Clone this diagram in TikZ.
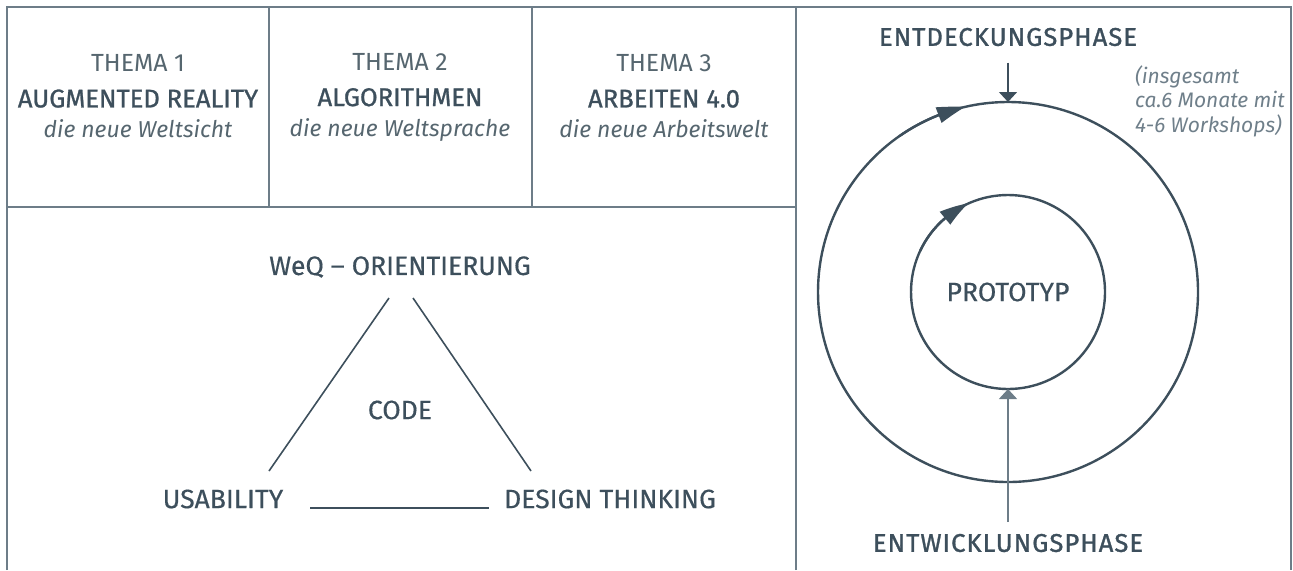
\documentclass[tikz,border=0pt]{standalone}
\usepackage{fontspec}
\setmainfont{Fira Sans}
\newfontfamily\medfont{Fira Sans}[FakeBold=0.4]
\newfontfamily\headfont{Fira Sans}[FakeBold=1.0]
\newfontfamily\capsfont{Fira Sans}[FakeBold=1.2, LetterSpace=4]
\usepackage{xcolor}
\usetikzlibrary{arrows.meta,bending,positioning}
\definecolor{slate}{HTML}{3D4F5C}
\definecolor{themegray}{HTML}{56666F}
\definecolor{framegray}{HTML}{6D7D88}
\definecolor{notegray}{HTML}{6F7F8A}
\newcommand{\topic}[3]{{\color{themegray}\fontsize{12.4}{15}\selectfont #1}\\[3pt]
  {\headfont\fontsize{12.8}{15}\selectfont #2}\\
  {\color{themegray}\itshape\fontsize{11.5}{15}\selectfont #3}}

\begin{document}
\begin{tikzpicture}[
  x=0.5pt, y=0.5pt,
  rule/.style={draw=framegray, line width=1pt},
  thema/.style={align=center, text=slate, font=\fontsize{12}{15}\selectfont},
  term/.style={text=slate, font=\medfont\fontsize{13.3}{15}\selectfont},
  phase/.style={text=slate, inner sep=1pt, font=\capsfont\fontsize{12.8}{15}\selectfont},
  note/.style={text=notegray, align=left,
    font=\itshape\fontsize{10.5}{12.25}\selectfont},
  ring/.style={circle, draw=slate, line width=1.2pt, inner sep=0pt, outer sep=0pt},
  leg/.style={draw=slate, line width=0.8pt},
  cyc/.style={draw=slate, line width=1.2pt, -{Triangle[length=14pt,width=8pt,bend]}},
  pin/.style={draw=slate, line width=0.8pt, -{Triangle[length=5pt,width=9pt]}}
]
  \useasboundingbox (0,0) rectangle (1293,570);

  % frame
  \draw[rule] (6.5,0) -- (6.5,563) -- (1291,563) -- (1291,0);
  \draw[rule] (6.5,363) -- (796,363);
  \draw[rule] (269,363) -- (269,563);
  \draw[rule] (532,363) -- (532,563);
  \draw[rule] (796,0) -- (796,563);

  % themes
  \node[thema] (T1) at (138,474) {\topic{THEMA 1}{AUGMENTED REALITY}{die neue Weltsicht}};
  \node[thema] (T2) at (400,473) {\topic{THEMA 2}{ALGORITHMEN}{die neue Weltsprache}};
  \node[thema] (T3) at (664,474) {\topic{THEMA 3}{ARBEITEN 4.0}{die neue Arbeitswelt}};

  % triangle
  \node[term] (weq) at (400,303) {WeQ – ORIENTIERUNG};
  \node[term] (code) at (400,160) {CODE};
  \node[term] (usa) at (223,71) {USABILITY};
  \node[term] (dt) at (610,71) {DESIGN THINKING};
  \coordinate (apexL) at (389,272);
  \coordinate (apexR) at (413,272);
  \coordinate (baseL) at (269,99);
  \coordinate (baseR) at (531,99);
  \draw[leg] (apexL) -- (baseL);
  \draw[leg] (apexR) -- (baseR);
  \draw[draw=slate, line width=1.2pt, shorten <=10pt, shorten >=4pt] (usa.base east) -- (dt.base west);

  % cycle
  \node[ring, minimum size=190pt] (outer) at (1008,278) {};
  \node[ring, minimum size=97pt, term] (inner) at (1008,278) {PROTOTYP};
  \draw[cyc] (outer.125) arc[start angle=125, end angle=103, radius=190];
  \draw[cyc] (inner.155) arc[start angle=155, end angle=114, radius=97];

  \node[phase] (disc) at (1008,533) {ENTDECKUNGSPHASE};
  \node[phase] (dev) at (1008,27) {ENTWICKLUNGSPHASE};
  \draw[pin, shorten <=7pt] (disc.south) -- (outer.north);
  \draw[pin, draw=framegray, line width=0.6pt, shorten <=4.7pt] (dev.north) -- (inner.south);

  \node[note, anchor=west] (span) at (1128,469) {(insgesamt\\ca.6 Monate mit\\4-6 Workshops)};
\end{tikzpicture}
\end{document}
